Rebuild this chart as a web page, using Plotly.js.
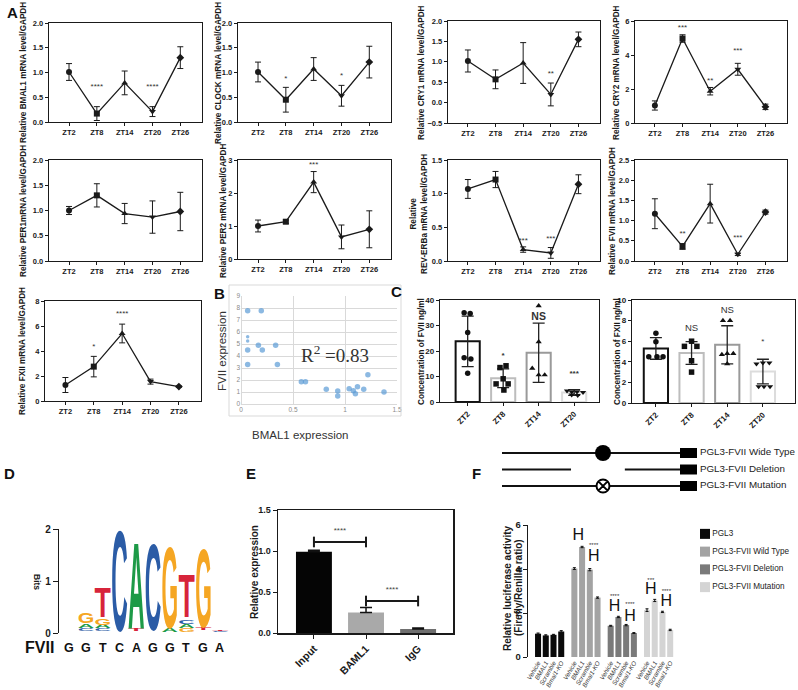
<!DOCTYPE html>
<html><head><meta charset="utf-8">
<script src="https://cdn.plot.ly/plotly-3.0.1.min.js"></script>
<style>html,body{margin:0;padding:0;background:#fff}#g{width:798px;height:690px}</style>
</head><body><div id="g"></div>
<script>
const W=798,H=690;
const FONT='Liberation Sans, Arial, sans-serif';
const INK='#1a1a1a';

// ---------- A: time course data ----------
const zt=['ZT2','ZT8','ZT14','ZT20','ZT26'];
const ztSymbols=['circle','square','triangle-up','triangle-down','diamond'];
const bmal1Mean=[1.01,0.17,0.79,0.21,1.30], bmal1Sd=[0.17,0.14,0.24,0.10,0.22];
const bmal1Sig=['','****','','****',''], bmal1SigY=[null,0.70,null,0.70,null];
const clockMean=[1.01,0.45,1.07,0.53,1.21], clockSd=[0.20,0.25,0.23,0.21,0.32];
const clockSig=['','*','','*',''], clockSigY=[null,0.87,null,0.93,null];
const cry1Mean=[1.02,0.57,0.97,0.20,1.55], cry1Sd=[0.27,0.23,0.50,0.28,0.18];
const cry1Sig=['','','','**',''], cry1SigY=[null,null,null,0.70,null];
const cry2Mean=[1.03,4.97,1.87,3.16,0.95], cry2Sd=[0.27,0.22,0.22,0.35,0.16];
const cry2Sig=['','***','**','***',''], cry2SigY=[null,5.6,2.5,4.26,null];
const per1Mean=[1.00,1.30,0.94,0.87,0.98], per1Sd=[0.08,0.23,0.20,0.32,0.38];
const per1Sig=['','','','',''], per1SigY=[null,null,null,null,null];
const per2Mean=[1.00,1.13,2.33,0.67,0.90], per2Sd=[0.18,0.05,0.32,0.36,0.56];
const per2Sig=['','','***','',''], per2SigY=[null,null,2.85,null,null];
const revMean=[1.07,1.21,0.17,0.12,1.14], revSd=[0.14,0.12,0.04,0.08,0.14];
const revSig=['','','***','***',''], revSigY=[null,null,0.30,0.33,null];
const f7Mean=[1.17,0.36,1.42,0.165,1.21], f7Sd=[0.37,0.07,0.48,0.03,0.05];
const f7Sig=['','**','','***',''], f7SigY=[null,0.66,null,0.57,null];
const f12Mean=[1.28,2.75,5.40,1.55,1.15], f12Sd=[0.60,0.82,0.75,0.20,0.05];
const f12Sig=['','*','****','',''], f12SigY=[null,4.3,6.95,null,null];

// ---------- B: scatter ----------
const bmal1Expr=[0.064,0.195,0.064,0.064,0.064,0.167,0.205,0.333,0.064,0.35,0.58,0.62,0.82,0.93,0.93,1.04,1.08,1.10,1.12,1.18,1.22,1.375];
const fviiExpr=[7.78,7.78,5.6,5.25,4.5,4.9,4.5,4.9,3.3,3.3,1.86,1.86,1.22,1.08,0.67,1.28,1.1,0.86,1.44,1.22,2.44,1.0];
const bSizes=[5.5,5.5,3.5,3.5,5.5,5.5,5.5,5.5,5.5,5.5,5.5,5.5,5.5,5.5,5.5,5.5,5.5,5.5,5.5,5.5,5.5,5.5];

// ---------- C: plasma concentrations ----------
const ztC=['ZT2','ZT8','ZT14','ZT20'];
const cSymbols=['circle','square','triangle-up','triangle-down'];
const fviiConcMean=[23.8,9.3,19.3,3.7], fviiConcSd=[9.9,3.7,11.6,1.1];
const fviiConcPts=[[35,34.7,27.3,17.4,16.9,11.3],[13.5,14.2,7.1,9.1,7.1,4.7],[37.7,23.6,13.2,10.6,10.6],[4.4,4.0,4.0,3.8,2.8,2.6]];
const fviiJitter=[[-0.1,0.07,0,-0.1,0.09,0],[-0.09,0.08,-0.2,0,0.14,0.02],[0,0,-0.18,0,0.17],[-0.2,-0.07,0.08,0.25,-0.07,0.1]];
const fviiConcSig=['','*','NS','***'], fviiConcSigY=[null,18.2,33,10.8];
const fxiiConcMean=[5.3,4.85,5.65,3.05], fxiiConcSd=[1.05,1.1,1.85,1.2];
const fxiiConcPts=[[6.77,5.94,4.5,4.5,4.5],[6.0,5.5,5.5,4.1,3.0],[8.0,8.0,4.7,4.8,4.8,3.8],[3.8,3.9,3.9,1.6,1.6,1.6]];
const fxiiJitter=[[0,0,-0.2,0.03,0.2],[0,-0.2,0.15,0,0],[-0.12,0.08,-0.15,0,0.17,0],[-0.18,0,0.18,-0.12,0.03,0.2]];
const fxiiConcSig=['','NS','NS','*'], fxiiConcSigY=[null,7.2,8.95,5.9];
const cOutline=['#111111','#bdbdbd','#9a9a9a','#dcdcdc'];

// ---------- D: motif logo ----------
const seqLetters=['G','G','T','C','A','G','G','T','G','A'];
const logoPos=   [2,2,2, 3,3,3,3, 4, 5,5, 6, 7,7, 8,8,8,8, 9,9, 10,10];
const logoLetter=['C','A','G','C','A','G','T','C','T','A','C','A','G','G','A','C','T','T','G','C','T'];
const logoBottom=[0.03,0.09,0.19, 0.03,0.09,0.16,0.30, 0.04, 0.03,0.08, 0.06, 0.02,0.09, 0.02,0.09,0.17,0.30, 0.05,0.11, 0.01,0.04];
const logoTop=   [0.08,0.17,0.38, 0.08,0.15,0.27,0.86, 1.96, 0.07,1.72, 1.72, 0.08,1.65, 0.08,0.16,0.25,1.12, 0.10,1.62, 0.04,0.07];
const baseColor={A:'#1d9a47',C:'#2b5ca6',G:'#f5a623',T:'#d7243b'};

// ---------- E: ChIP ----------
const eLabels=['Input','BAML1','IgG'];
const eVals=[0.99,0.25,0.05], eErr=[0.02,0.06,0.01];
const eColors=['#050505','#a9a9a9','#6f6f6f'];
const eBrFrom=[0,1], eBrTo=[1,2], eBrY=[1.11,0.39], eBrText=['****','****'], eBrTextY=[1.24,0.52];

// ---------- F: luciferase ----------
const fNames=['PGL3','PGL3-FVII Wild Type','PGL3-FVII Deletion','PGL3-FVII Mutation'];
const fConds=['Vehicle','BMAL1','Scramble','Bmal1-KO'];
const fVals=[[1.06,0.98,1.01,1.16],[4.02,5.0,3.97,2.7],[1.42,1.82,1.45,1.09],[2.13,2.57,2.05,1.23]];
const fErr=[[0.03,0.03,0.02,0.04],[0.04,0.03,0.05,0.03],[0.02,0.03,0.03,0.02],[0.06,0.05,0.03,0.03]];
const fColors=['#0a0a0a','#a3a3a3','#7a7a7a','#d4d4d4'];
const fSigGroup=[1,1,2,2,3,3], fSigPair=[0,2,0,2,0,2];
const fSigH=[5.5,4.55,2.27,1.82,3.05,2.5];
const fSigText=['****','****','****','****','***','****'];
const fSigTextY=[6.05,5.05,2.75,2.4,3.5,3.0];
const constructs=['PGL3-FVII Wide Type','PGL3-FVII Deletion','PGL3-FVII Mutation'];

// ---------- helpers ----------
const data=[];
const layout={width:W,height:H,margin:{l:0,r:0,t:0,b:0},paper_bgcolor:'#fff',plot_bgcolor:'rgba(0,0,0,0)',
  showlegend:false,hovermode:false,annotations:[],shapes:[],font:{family:FONT,color:INK}};
const axN=(n,c)=>c+'axis'+(n===1?'':n);
const rf=(n,c)=>c+(n===1?'':n);
const dX=(l,r)=>[l/W,r/W];
const dY=(t,b)=>[1-b/H,1-t/H];
function ann(x,y,text,opt){layout.annotations.push(Object.assign({xref:'paper',yref:'paper',x:x/W,y:1-y/H,text:text,showarrow:false,xanchor:'center',yanchor:'middle'},opt||{}));}
const boxAx={showline:true,mirror:true,linecolor:INK,linewidth:1.2,ticks:'outside',ticklen:3,tickwidth:1,tickcolor:INK,
  showgrid:false,zeroline:false,fixedrange:true,tickfont:{family:FONT,size:7.5,color:INK,weight:'bold'}};

// ---------- A panels ----------
const aSeries=[
 {m:bmal1Mean,s:bmal1Sd,g:bmal1Sig,gy:bmal1SigY,t:'Relative BMAL1 mRNA level/GAPDH'},
 {m:clockMean,s:clockSd,g:clockSig,gy:clockSigY,t:'Relative CLOCK mRNA level/GAPDH'},
 {m:cry1Mean,s:cry1Sd,g:cry1Sig,gy:cry1SigY,t:'Relative CRY1 mRNA level/GAPDH'},
 {m:cry2Mean,s:cry2Sd,g:cry2Sig,gy:cry2SigY,t:'Relative CRY2 mRNA level/GAPDH'},
 {m:per1Mean,s:per1Sd,g:per1Sig,gy:per1SigY,t:'Relative PER1mRNA level/GAPDH'},
 {m:per2Mean,s:per2Sd,g:per2Sig,gy:per2SigY,t:'Relative PER2 mRNA level/GAPDH'},
 {m:revMean,s:revSd,g:revSig,gy:revSigY,t:'Relative<br>REV-ERBa mRNA level/GAPDH'},
 {m:f7Mean,s:f7Sd,g:f7Sig,gy:f7SigY,t:'Relative FVII mRNA level/GAPDH'},
 {m:f12Mean,s:f12Sd,g:f12Sig,gy:f12SigY,t:'Relative FXII mRNA level/GAPDH'}];
const aGeom=[
 {id:1,x:[49,202],y:[23,122],r:[0,2],d:0.5,f:'.1f',tx:24,ty:73},
 {id:2,x:[238,391],y:[23,122],r:[0,2],d:0.5,f:'.1f',tx:219,ty:73},
 {id:3,x:[448,600],y:[21,123],r:[-0.5,2],d:0.5,f:'.1f',tx:422,ty:73},
 {id:4,x:[635,787],y:[21,123],r:[0,6],d:2,f:'d',tx:617,ty:73},
 {id:5,x:[49,202],y:[160,261],r:[0,2],d:0.5,f:'.1f',tx:24,ty:211},
 {id:6,x:[238,391],y:[160,259],r:[0,3],d:1,f:'d',tx:224,ty:211},
 {id:7,x:[448,600],y:[160,261],r:[0,1.5],d:0.5,f:'.1f',tx:419,ty:214},
 {id:8,x:[635,787],y:[160,261],r:[0,2.5],d:0.5,f:'.1f',tx:613,ty:211},
 {id:9,x:[45,201],y:[301,401],r:[0,8],d:2,f:'d',tx:23,ty:351}];
aGeom.forEach((g,i)=>{
  const s=aSeries[i], xr=rf(g.id,'x'), yr=rf(g.id,'y');
  const xi=zt.map((_,k)=>k);
  data.push({type:'scatter',mode:'lines+markers',x:xi,y:s.m,xaxis:xr,yaxis:yr,cliponaxis:false,
    line:{color:INK,width:1.3},marker:{symbol:ztSymbols,size:6,color:INK},
    error_y:{type:'data',array:s.s,visible:true,color:INK,thickness:1,width:3}});
  const sx=[],sy=[],st=[];
  s.g.forEach((t,k)=>{if(t){sx.push(k);sy.push(s.gy[k]);st.push(t);}});
  data.push({type:'scatter',mode:'text',x:sx,y:sy,text:st,xaxis:xr,yaxis:yr,cliponaxis:false,
    textposition:'middle center',textfont:{family:FONT,size:8,color:'#333'}});
  layout[axN(g.id,'x')]=Object.assign({},boxAx,{domain:dX(g.x[0],g.x[1]),anchor:yr,range:[-0.72,4.78],tickvals:xi,ticktext:zt});
  layout[axN(g.id,'y')]=Object.assign({},boxAx,{domain:dY(g.y[0],g.y[1]),anchor:xr,range:g.r,tick0:g.r[0],dtick:g.d,tickformat:g.f});
  ann(g.tx,g.ty,s.t,{textangle:-90,font:{family:FONT,size:8.2,color:INK,weight:'bold'}});
});

// ---------- B ----------
data.push({type:'scatter',mode:'markers',x:bmal1Expr,y:fviiExpr,xaxis:'x10',yaxis:'y10',cliponaxis:false,
  marker:{color:'#5b9bd5',size:bSizes,line:{width:0}}});
const gridAx={showgrid:true,gridcolor:'#d9d9d9',gridwidth:1,zeroline:true,zerolinecolor:'#d9d9d9',zerolinewidth:1,
  showline:false,ticks:'',fixedrange:true,tickfont:{family:FONT,size:6.5,color:'#8a8a8a'}};
layout.xaxis10=Object.assign({},gridAx,{domain:dX(241,397),anchor:'y10',range:[0,1.5],dtick:0.5});
layout.yaxis10=Object.assign({},gridAx,{domain:dY(296,404),anchor:'x10',range:[0,9],dtick:1});
layout.shapes.push({type:'rect',xref:'paper',yref:'paper',x0:229/W,x1:401/W,y0:1-416/H,y1:1-285/H,line:{color:'#d9d9d9',width:1}});
layout.annotations.push({xref:'x10',yref:'y10',x:0.9,y:4.2,text:'R<sup>2</sup> =0.83',showarrow:false,
  font:{family:'Liberation Serif, DejaVu Serif, serif',size:19,color:'#333'}});
ann(222,351,'FVII expression',{textangle:-90,font:{family:FONT,size:11.5,color:'#333'}});
ann(300,435,'BMAL1 expression',{font:{family:FONT,size:11.5,color:'#333'}});

// ---------- C ----------
function cPanel(id,geo,mean,sd,pts,jit,sig,sigY,range,dtick,title,tx){
  const xr=rf(id,'x'),yr=rf(id,'y'); const xi=ztC.map((_,k)=>k);
  data.push({type:'bar',x:xi,y:mean,width:0.68,xaxis:xr,yaxis:yr,
    marker:{color:'rgba(255,255,255,0)',line:{color:cOutline,width:2}},
    error_y:{type:'data',array:sd,visible:true,color:'#222',thickness:1.3,width:6}});
  pts.forEach((p,k)=>{
    data.push({type:'scatter',mode:'markers',x:p.map((_,j)=>k+jit[k][j]),y:p,xaxis:xr,yaxis:yr,cliponaxis:false,
      marker:{symbol:cSymbols[k],size:5.5,color:'#111'}});
  });
  const sx=[],sy=[],st=[];
  sig.forEach((t,k)=>{if(t){sx.push(k);sy.push(sigY[k]);st.push(t);}});
  data.push({type:'scatter',mode:'text',x:sx,y:sy,text:st,xaxis:xr,yaxis:yr,cliponaxis:false,
    textfont:{family:FONT,size:st.map(t=>t==='NS'?(id===11?10.5:9.5):8),color:'#333',weight:(id===11?'bold':'normal')}});
  layout[axN(id,'x')]=Object.assign({},boxAx,{domain:dX(geo.x[0],geo.x[1]),anchor:yr,range:geo.xr,tickvals:xi,ticktext:ztC,tickangle:-45,
    tickfont:{family:FONT,size:8,color:INK,weight:'bold'}});
  layout[axN(id,'y')]=Object.assign({},boxAx,{domain:dY(geo.y[0],geo.y[1]),anchor:xr,range:range,dtick:dtick,
    tickfont:{family:FONT,size:8,color:INK,weight:'bold'}});
  ann(tx,352,title,{textangle:-90,font:{family:FONT,size:8.2,color:INK,weight:'bold'}});
}
cPanel(11,{x:[440,599],y:[300,402],xr:[-0.78,3.7]},fviiConcMean,fviiConcSd,fviiConcPts,fviiJitter,fviiConcSig,fviiConcSigY,[0,40],10,'Concentration of FVII ng/ml',421);
cPanel(12,{x:[632,795],y:[300,403],xr:[-0.67,3.9]},fxiiConcMean,fxiiConcSd,fxiiConcPts,fxiiJitter,fxiiConcSig,fxiiConcSigY,[0,10],2,'Concentration of FXII ng/ml',617);

// ---------- D ----------
data.push({type:'scatter',mode:'text',uid:'logo',x:logoPos,y:logoBottom,text:logoLetter,xaxis:'x13',yaxis:'y13',cliponaxis:false,
  textposition:'middle center',textfont:{family:'Liberation Sans',size:20,weight:'bold',color:logoLetter.map(l=>baseColor[l])}});
seqLetters.forEach((l,k)=>layout.annotations.push({xref:'x13',yref:'paper',x:k+1,y:1-648/H,text:l,showarrow:false,
  xanchor:'center',yanchor:'middle',font:{family:FONT,size:12.5,color:'#111',weight:'bold'}}));
layout.xaxis13={domain:dX(59,230),anchor:'y13',range:[0.404,10.6],visible:false,fixedrange:true};
layout.yaxis13={domain:dY(529,633),anchor:'x13',range:[0,2],tickvals:[0,1,2],showline:true,linecolor:INK,linewidth:1.2,
  ticks:'outside',ticklen:5,tickcolor:INK,showgrid:false,zeroline:false,fixedrange:true,tickfont:{family:FONT,size:10,color:INK,weight:'bold'}};
ann(39,647,'FVII',{font:{family:FONT,size:16,color:'#111',weight:'bold'}});
ann(37,582,'Bits',{textangle:90,font:{family:FONT,size:8.5,color:INK,weight:'bold'}});

// ---------- E ----------
data.push({type:'bar',x:[0,1,2],y:eVals,width:0.69,xaxis:'x14',yaxis:'y14',marker:{color:eColors,line:{width:0}},
  error_y:{type:'data',symmetric:false,array:eErr,arrayminus:[0,0,0],visible:true,color:'#111',thickness:1.5,width:6}});
eBrFrom.forEach((a,k)=>{
  const b=eBrTo[k], y=eBrY[k], d=0.065;
  data.push({type:'scatter',mode:'lines',x:[a,a,null,a,b,null,b,b],y:[y+d,y-d,null,y,y,null,y+d,y-d],xaxis:'x14',yaxis:'y14',
    cliponaxis:false,line:{color:'#1a1a1a',width:2}});
});
data.push({type:'scatter',mode:'text',x:eBrFrom.map((a,k)=>(a+eBrTo[k])/2),y:eBrTextY,text:eBrText,xaxis:'x14',yaxis:'y14',
  cliponaxis:false,textfont:{family:FONT,size:8,color:'#444'}});
layout.xaxis14=Object.assign({},boxAx,{domain:dX(278,453),anchor:'y14',range:[-0.69,2.67],tickvals:[0,1,2],ticktext:eLabels,tickangle:-45,
  ticklen:4,linewidth:1.5,tickfont:{family:FONT,size:10.5,color:INK,weight:'bold'}});
layout.yaxis14=Object.assign({},boxAx,{domain:dY(510,633),anchor:'x14',range:[0,1.5],dtick:0.5,tickformat:'.1f',ticklen:4,linewidth:1.5,
  tickfont:{family:FONT,size:9,color:INK,weight:'bold'}});
ann(254,572,'Relative expression',{textangle:-90,font:{family:FONT,size:10,color:INK,weight:'bold'}});

// ---------- F bars ----------
const fPos=(g,j)=>g*4.7+j;
const fTickVals=[],fTickText=[];
fVals.forEach((vals,g)=>{
  data.push({type:'bar',name:fNames[g],x:vals.map((_,j)=>fPos(g,j)),y:vals,width:0.78,xaxis:'x15',yaxis:'y15',
    marker:{color:fColors[g],line:{width:0}},
    error_y:{type:'data',array:fErr[g],visible:true,color:'#111',thickness:1,width:1.5}});
  vals.forEach((_,j)=>{fTickVals.push(fPos(g,j));fTickText.push(fConds[j]);});
});
data.push({type:'scatter',mode:'text',x:fSigGroup.map((g,k)=>fPos(g,fSigPair[k])+0.5),y:fSigH,text:fSigH.map(()=>'H'),
  xaxis:'x15',yaxis:'y15',cliponaxis:false,textfont:{family:FONT,size:16,color:'#111'}});
data.push({type:'scatter',mode:'text',x:fSigGroup.map((g,k)=>fPos(g,fSigPair[k])+0.5),y:fSigTextY,text:fSigText,
  xaxis:'x15',yaxis:'y15',cliponaxis:false,textfont:{family:FONT,size:6,color:'#333'}});
layout.xaxis15={domain:dX(528,681),anchor:'y15',range:[-1.3,18.5],tickvals:fTickVals,ticktext:fTickText,tickangle:-60,
  showline:false,ticks:'',showgrid:false,zeroline:false,fixedrange:true,tickfont:{family:FONT,size:6.3,color:'#333',style:'italic'}};
layout.yaxis15={domain:dY(525,657),anchor:'x15',range:[0,6],tickvals:[0,2,4,6],showline:true,linecolor:INK,linewidth:1.2,
  ticks:'outside',ticklen:4,tickcolor:INK,showgrid:false,zeroline:false,fixedrange:true,tickfont:{family:FONT,size:9.5,color:INK,weight:'bold'}};
ann(507,588,'Relative luciferase activity',{textangle:-90,font:{family:FONT,size:10,color:INK,weight:'bold'}});
ann(518,588,'(Firefly/Renilla ratio)',{textangle:-90,font:{family:FONT,size:10,color:INK,weight:'bold'}});
// legend (drawn from the series names)
data.push({type:'scatter',mode:'markers+text',x:fNames.map(()=>0),y:fNames.map((_,k)=>k),text:fNames,textposition:'middle right',
  xaxis:'x17',yaxis:'y17',cliponaxis:false,marker:{symbol:'square',size:10,color:fColors},
  textfont:{family:FONT,size:8.2,color:'#222'}});
layout.xaxis17={domain:dX(700,790),anchor:'y17',range:[-0.5,8.5],visible:false,fixedrange:true};
layout.yaxis17={domain:dY(525,596),anchor:'x17',range:[3.5,-0.5],visible:false,fixedrange:true};

// ---------- F construct schematic ----------
const lineStart=0, lucStart=91.3, lucEnd=100, sitePos=51.8, delFrom=35.4, delTo=63;
data.push({type:'scatter',mode:'lines',xaxis:'x16',yaxis:'y16',cliponaxis:false,line:{color:'#111',width:2},
  x:[lineStart,lucStart,null,lineStart,delFrom,null,delTo,lucStart,null,lineStart,lucStart],
  y:[2,2,null,1,1,null,1,1,null,0,0]});
data.push({type:'scatter',mode:'lines',xaxis:'x16',yaxis:'y16',cliponaxis:false,line:{color:'#000',width:10},
  x:[lucStart,lucEnd,null,lucStart,lucEnd,null,lucStart,lucEnd],y:[2,2,null,1,1,null,0,0]});
data.push({type:'scatter',mode:'markers',xaxis:'x16',yaxis:'y16',cliponaxis:false,x:[sitePos],y:[2],
  marker:{symbol:'circle',size:16,color:'#000'}});
data.push({type:'scatter',mode:'markers',xaxis:'x16',yaxis:'y16',cliponaxis:false,x:[sitePos],y:[0],
  marker:{symbol:'circle-x',size:13,color:'#fff',line:{color:'#000',width:2}}});
data.push({type:'scatter',mode:'text',xaxis:'x16',yaxis:'y16',cliponaxis:false,x:constructs.map(()=>lucEnd+1.5),y:[2,1,0],
  text:constructs,textposition:'middle right',textfont:{family:FONT,size:9.8,color:'#222'}});
layout.xaxis16={domain:dX(502,797),anchor:'y16',range:[0,151.3],visible:false,fixedrange:true};
layout.yaxis16={domain:dY(446,493),anchor:'x16',range:[-0.424,2.424],visible:false,fixedrange:true};

// ---------- panel letters ----------
[['A',12,12],['B',219,293],['C',396,292],['D',9,473],['E',251,473],['F',476,473]].forEach(p=>
  ann(p[1],p[2],p[0],{font:{family:FONT,size:15,color:'#111',weight:'bold'}}));

// ---------- draw ----------
const gd=document.getElementById('g');
function stretchLogo(){
  const ya=gd._fullLayout.yaxis13;
  const ppu=ya._length/(ya.range[1]-ya.range[0]);
  let nodes=gd.querySelectorAll('.tracelogo .textpoint text');
  if(!nodes.length){
    const sp=gd.querySelector('.subplot.x13y13');
    if(!sp) return;
    const tr=sp.querySelectorAll('.scatterlayer .trace');
    if(!tr.length) return;
    nodes=tr[0].querySelectorAll('.textpoint text');
  }
  const cv=document.createElement('canvas').getContext('2d');
  const LW=16;
  nodes.forEach((t,i)=>{
    t.parentNode.removeAttribute('transform');
    cv.font='bold 20px "Liberation Sans"'; cv.textAlign='center'; cv.textBaseline='alphabetic';
    const m=cv.measureText(logoLetter[i]);
    const X=parseFloat(t.getAttribute('x')), Y=parseFloat(t.getAttribute('y'));
    const gl=X-m.actualBoundingBoxLeft, gr=X+m.actualBoundingBoxRight;
    const gt=Y-m.actualBoundingBoxAscent, gb=Y+m.actualBoundingBoxDescent;
    const h=(logoTop[i]-logoBottom[i])*ppu;
    const sx=LW/(gr-gl), sy=h/(gb-gt);
    const tx=(X-LW/2)-sx*gl, ty=Y-sy*gb;
    t.setAttribute('transform','matrix('+sx+',0,0,'+sy+','+tx+','+ty+')');
  });
}
Plotly.newPlot(gd,data,layout,{staticPlot:true,displayModeBar:false}).then(stretchLogo);
</script></body></html>
